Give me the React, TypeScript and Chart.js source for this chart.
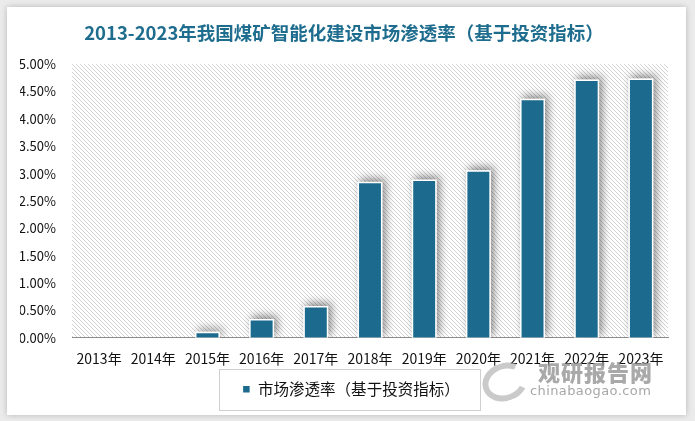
import React, { useEffect, useRef } from "react";
import { Chart, registerables } from "chart.js";

Chart.register(...registerables);

const categories = ["2013年", "2014年", "2015年", "2016年", "2017年", "2018年", "2019年", "2020年", "2021年", "2022年", "2023年"];
const penetration = [0, 0, 0.11, 0.34, 0.58, 2.85, 2.89, 3.06, 4.37, 4.72, 4.74];
const seriesName = "市场渗透率（基于投资指标）";
const titleText = "2013-2023年我国煤矿智能化建设市场渗透率（基于投资指标）";
const yMax = 5;
const yStep = 0.5;

const BAR = "#1c6b8f";
const FONT = "'Noto Sans CJK SC', 'Noto Sans', sans-serif";
const LEGEND_SHIFT = 7;

function makeHatch(ctx: CanvasRenderingContext2D): CanvasPattern | string {
  const c = document.createElement("canvas");
  c.width = 4;
  c.height = 4;
  const g = c.getContext("2d");
  if (!g) return "#fff";
  g.fillStyle = "#ffffff";
  g.fillRect(0, 0, 4, 4);
  g.fillStyle = "#d2d2d2";
  for (let i = 0; i < 4; i++) g.fillRect(i, i, 1, 1);
  return ctx.createPattern(c, "repeat") || "#fff";
}

const plotBg = {
  id: "plotBg",
  beforeDraw(chart: any) {
    const { ctx, chartArea } = chart;
    ctx.save();
    ctx.fillStyle = makeHatch(ctx);
    ctx.fillRect(chartArea.left, chartArea.top, chartArea.right - chartArea.left, chartArea.bottom - chartArea.top);
    ctx.restore();
  },
};

const barShadow = {
  id: "barShadow",
  beforeDatasetsDraw(chart: any) {
    const ctx = chart.ctx;
    const meta = chart.getDatasetMeta(0);
    ctx.save();
    ctx.beginPath();
    ctx.rect(chart.chartArea.left, chart.chartArea.top - 10, chart.chartArea.right - chart.chartArea.left + 10, chart.chartArea.bottom - chart.chartArea.top + 10);
    ctx.clip();
    ctx.shadowColor = "rgba(0,0,0,0.45)";
    ctx.shadowBlur = 9;
    ctx.shadowOffsetX = 3;
    ctx.shadowOffsetY = -3;
    ctx.fillStyle = "#ffffff";
    meta.data.forEach((el: any) => {
      const h = el.base - el.y;
      if (h < 1) return;
      const left = el.x - el.width / 2;
      ctx.fillRect(left, el.y, el.width, h);
    });
    ctx.restore();
  },
};

const legendBox = {
  id: "legendBox",
  afterLayout(chart: any) {
    const lg = chart.legend;
    if (!lg) return;
    lg.left += LEGEND_SHIFT;
    lg.right += LEGEND_SHIFT;
  },
  afterDraw(chart: any) {
    const lg = chart.legend;
    if (!lg || !lg.legendHitBoxes || !lg.legendHitBoxes.length) return;
    const hb = lg.legendHitBoxes[0];
    const cy = hb.top + hb.height / 2;
    const ctx = chart.ctx;
    ctx.save();
    ctx.strokeStyle = "#d0d0d0";
    ctx.lineWidth = 1;
    ctx.strokeRect(Math.round(hb.left - 23) + 0.5, Math.round(cy - 20) + 0.5, Math.round(hb.width + 44), 41);
    ctx.restore();
  },
};

export default function App() {
  const ref = useRef<HTMLCanvasElement | null>(null);

  useEffect(() => {
    if (!ref.current) return;
    const chart = new Chart(ref.current, {
      type: "bar",
      data: {
        labels: categories,
        datasets: [
          {
            label: seriesName,
            data: penetration,
            backgroundColor: BAR,
            borderColor: "#ffffff",
            borderWidth: 1.5,
            categoryPercentage: 1,
            barPercentage: 0.46,
          },
        ],
      },
      options: {
        animation: false,
        responsive: false,
        devicePixelRatio: 1,
        layout: { padding: { left: 20, right: 27, top: 0, bottom: 14 } },
        plugins: {
          title: {
            display: true,
            text: titleText,
            color: "#1f6d8e",
            font: { family: FONT, size: 18.5, weight: "bold" },
            padding: { top: 22, bottom: 20 },
          },
          legend: {
            display: true,
            position: "bottom",
            labels: {
              boxWidth: 8,
              boxHeight: 8,
              padding: 9,
              color: "#111",
              font: { family: FONT, size: 15.5 },
            },
          },
          tooltip: { enabled: false },
        },
        scales: {
          x: {
            grid: { display: false },
            border: { display: true, color: "#8c8c8c", width: 1 },
            ticks: { color: "#111", font: { family: FONT, size: 14 }, padding: 5, maxRotation: 0, autoSkip: false },
          },
          y: {
            min: 0,
            max: yMax,
            grid: { display: false },
            border: { display: false },
            afterFit: (s: any) => {
              s.width = 52;
            },
            ticks: {
              stepSize: yStep,
              padding: 8,
              color: "#111",
              font: { family: FONT, size: 13 },
              callback: (v: any) => Number(v).toFixed(2) + "%",
            },
          },
        },
      },
      plugins: [plotBg, barShadow, legendBox],
    });
    return () => chart.destroy();
  }, []);

  return (
    <div style={{ position: "fixed", left: 0, top: 0, width: 695, height: 421, background: "#ebebeb", overflow: "hidden" }}>
      <div
        style={{
          position: "absolute",
          left: 7,
          top: 7,
          width: 679,
          height: 408,
          background: "#ffffff",
          boxShadow: "0 0 6px rgba(0,0,0,0.22)",
        }}
      />
      <canvas ref={ref} width={695} height={421} style={{ position: "absolute", left: 0, top: 0, width: 695, height: 421 }} />
      <div
        style={{
          position: "absolute",
          left: 482,
          top: 363,
          width: 34,
          height: 26,
          borderRadius: "50%",
          border: "6px solid rgba(185,185,185,0.75)",
          borderRightColor: "transparent",
          transform: "rotate(-20deg)",
        }}
      />
      <div
        style={{
          position: "absolute",
          left: 538,
          top: 358,
          fontFamily: FONT,
          fontWeight: 900,
          fontSize: 22,
          letterSpacing: 1,
          color: "rgba(140,140,140,0.75)",
          lineHeight: "26px",
          whiteSpace: "nowrap",
        }}
      >
        观研报告网
      </div>
      <div
        style={{
          position: "absolute",
          left: 530,
          top: 383,
          fontFamily: "'DejaVu Sans', sans-serif",
          fontSize: 13,
          letterSpacing: 0.4,
          color: "rgba(150,150,150,0.85)",
          lineHeight: "16px",
          whiteSpace: "nowrap",
        }}
      >
        chinabaogao.com
      </div>
    </div>
  );
}
